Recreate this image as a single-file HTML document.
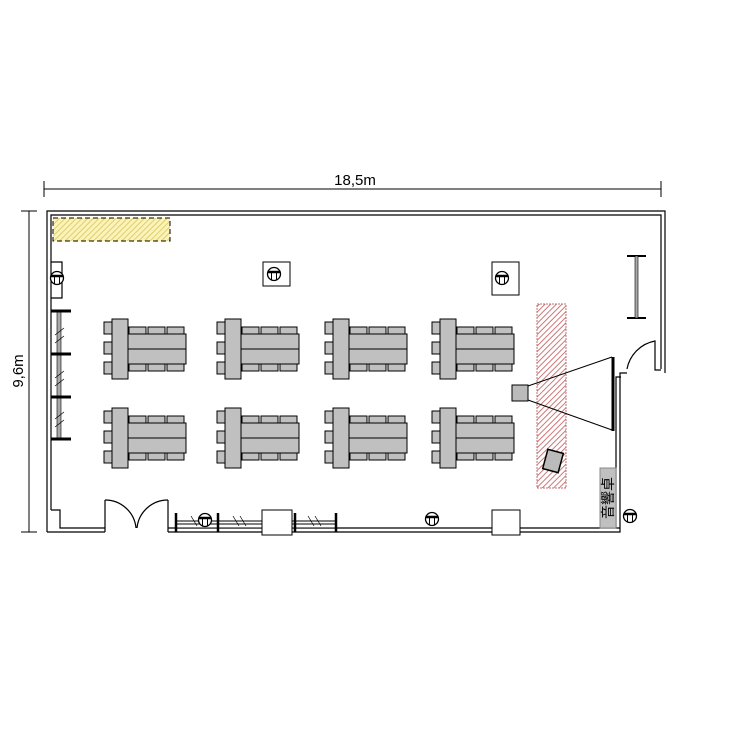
<!DOCTYPE html>
<html><head><meta charset="utf-8"><style>html,body{margin:0;padding:0;background:#fff}svg{display:block}</style></head>
<body>
<svg width="750" height="750" viewBox="0 0 750 750" xmlns="http://www.w3.org/2000/svg" font-family="Liberation Sans, sans-serif">
<defs>
<pattern id="yh" width="4" height="4" patternUnits="userSpaceOnUse" patternTransform="rotate(45)"><rect width="4" height="4" fill="#fbf3b8"/><line x1="0" y1="0" x2="0" y2="4" stroke="#d8c460" stroke-width="1.6"/></pattern>
<pattern id="rh" width="4" height="4" patternUnits="userSpaceOnUse" patternTransform="rotate(45)"><rect width="4" height="4" fill="#fff"/><line x1="0" y1="0" x2="0" y2="4" stroke="#c86868" stroke-width="1.8"/></pattern>
<g id="sock"><circle cx="0" cy="0" r="6.5" fill="#fff" stroke="#000" stroke-width="1.3"/><path d="M-6.5,-2 H6.5" stroke="#000" stroke-width="2.5"/><path d="M-2.5,-2 V6 M2.5,-2 V6" stroke="#000"/></g>
<g id="grp">
 <g fill="#c0c0c0" stroke="#000" stroke-width="1">
  <rect x="0" y="3" width="8" height="12"/><rect x="0" y="23" width="8" height="12"/><rect x="0" y="43" width="8" height="12"/>
  <rect x="25" y="8" width="17" height="8"/><rect x="44" y="8" width="17" height="8"/><rect x="63" y="8" width="17" height="8"/>
  <rect x="25" y="44" width="17" height="8"/><rect x="44" y="44" width="17" height="8"/><rect x="63" y="44" width="17" height="8"/>
  <rect x="24" y="15" width="58" height="30"/>
  <line x1="24" y1="30" x2="82" y2="30"/>
  <rect x="8" y="0" width="16" height="60"/>
 </g>
</g>
</defs>
<g stroke="#000" fill="none">
<line x1="44" y1="189" x2="661" y2="189"/><line x1="44" y1="181" x2="44" y2="197"/><line x1="661" y1="181" x2="661" y2="197"/>
<line x1="29" y1="211" x2="29" y2="532"/><line x1="21" y1="211" x2="37" y2="211"/><line x1="21" y1="532" x2="37" y2="532"/>
</g>
<text x="355" y="185" font-size="15" text-anchor="middle">18,5m</text>
<text transform="translate(23,371) rotate(-90)" font-size="15" text-anchor="middle">9,6m</text>
<g stroke="#000" fill="none" stroke-width="1.2">
<path d="M47,532 V211 H665 V373"/>
<path d="M51,510 V215 H661 V369"/>
<path d="M51,510 H60 V528 H105"/><path d="M47,532 H105"/>
<path d="M168,528 H620"/><path d="M168,532 H620 V373 H627"/>
<path d="M616,528 V377 H621"/>
<path d="M627,369 A35,35 0 0 1 655,341 V370 H661"/>
<path d="M105,500 V532 M168,500 V532"/>
<path d="M105,500 A31,31 0 0 1 136,528 M168,500 A31,31 0 0 0 137,528"/>
<path d="M51,262 H62 V298 H51"/>
</g>
<rect x="53" y="218" width="117" height="23" fill="url(#yh)" stroke="#000" stroke-dasharray="5,3"/>
<rect x="57" y="312" width="4" height="126" fill="#aaa" stroke="#000" stroke-width="0.6"/>
<g stroke="#000" stroke-width="3"><line x1="51" y1="311" x2="71" y2="311"/><line x1="51" y1="354" x2="71" y2="354"/><line x1="51" y1="397" x2="71" y2="397"/><line x1="51" y1="439" x2="71" y2="439"/></g>
<g stroke="#000" stroke-width="0.7"><line x1="55" y1="335" x2="64" y2="328"/><line x1="55" y1="343" x2="64" y2="336"/><line x1="55" y1="378" x2="64" y2="371"/><line x1="55" y1="386" x2="64" y2="379"/><line x1="55" y1="419" x2="64" y2="412"/><line x1="55" y1="427" x2="64" y2="420"/></g>
<use href="#sock" x="57" y="278"/>
<rect x="263" y="262" width="27" height="24" fill="#fff" stroke="#000"/><use href="#sock" x="274" y="274"/>
<rect x="492" y="262" width="27" height="33" fill="#fff" stroke="#000"/><use href="#sock" x="502" y="278"/>
<use href="#grp" x="104" y="319"/><use href="#grp" x="217" y="319"/><use href="#grp" x="325" y="319"/><use href="#grp" x="432" y="319"/>
<use href="#grp" x="104" y="408"/><use href="#grp" x="217" y="408"/><use href="#grp" x="325" y="408"/><use href="#grp" x="432" y="408"/>
<rect x="537" y="304" width="29" height="184" fill="url(#rh)" stroke="#c07070" stroke-dasharray="2,1"/>
<line x1="528" y1="386" x2="612" y2="357" stroke="#000"/><line x1="528" y1="400" x2="612" y2="430" stroke="#000"/>
<rect x="512" y="385" width="16" height="16" fill="#bbb" stroke="#000"/>
<line x1="613" y1="357" x2="613" y2="431" stroke="#000" stroke-width="3"/>
<rect x="545" y="451" width="16" height="20" fill="#bbb" stroke="#000" stroke-width="1.5" transform="rotate(15 553 461)"/>
<g stroke="#000"><line x1="627" y1="256" x2="646" y2="256" stroke-width="2"/><line x1="627" y1="318" x2="646" y2="318" stroke-width="2"/><rect x="635" y="256" width="3" height="62" fill="#aaa" stroke-width="0.6"/></g>
<rect x="600" y="468" width="16" height="60" fill="#c0c0c0" stroke="#888"/>
<text transform="translate(613,498) rotate(-90)" font-size="14" text-anchor="middle" font-family="Liberation Sans, Noto Sans CJK JP, sans-serif">音響卓</text>
<use href="#sock" x="630" y="516"/>
<g stroke="#000" fill="none">
<rect x="176" y="521" width="160" height="7" fill="#fff"/>
<line x1="176" y1="524" x2="336" y2="524"/>
</g>
<g stroke="#000" stroke-width="2.5"><line x1="176" y1="513" x2="176" y2="532"/><line x1="218" y1="513" x2="218" y2="532"/><line x1="295" y1="513" x2="295" y2="532"/><line x1="336" y1="513" x2="336" y2="532"/></g>
<g stroke="#000" stroke-width="0.7"><line x1="191" y1="516" x2="197" y2="526"/><line x1="233" y1="516" x2="239" y2="526"/><line x1="240" y1="516" x2="246" y2="526"/><line x1="308" y1="516" x2="314" y2="526"/><line x1="315" y1="516" x2="321" y2="526"/></g>
<use href="#sock" x="205" y="520"/>
<rect x="262" y="510" width="30" height="25" fill="#fff" stroke="#000"/>
<use href="#sock" x="432" y="519"/>
<rect x="492" y="510" width="28" height="25" fill="#fff" stroke="#000"/>
</svg>
</body></html>
